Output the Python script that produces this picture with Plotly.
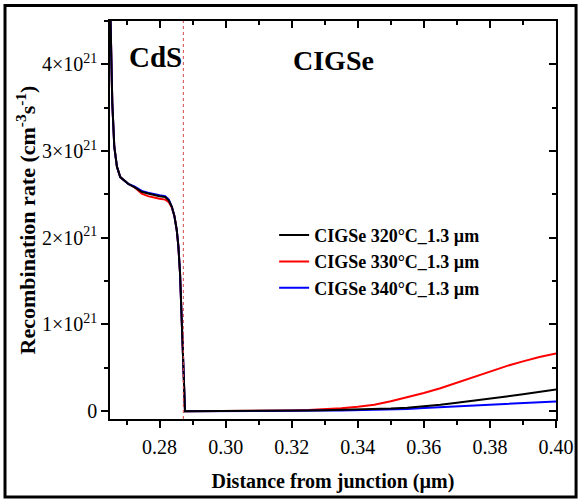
import plotly.graph_objects as go

SCALE = 1e21

# Distance from junction (µm)
x_vals = [0.2650, 0.2653, 0.2657, 0.2663, 0.2671, 0.2681, 0.2695, 0.2706, 0.2725,
          0.2746, 0.2765, 0.2785, 0.2800, 0.2817, 0.2828, 0.2837, 0.2845, 0.2852,
          0.2857, 0.2862, 0.2867, 0.2872, 0.2877, 0.2880, 0.290, 0.300, 0.310,
          0.320, 0.325, 0.330, 0.335, 0.340, 0.345, 0.350, 0.355, 0.360, 0.365,
          0.370, 0.375, 0.380, 0.385, 0.390, 0.395, 0.400]

# Recombination rate in units of 1e21 cm^-3 s^-1
y_320 = [4.80, 4.31, 3.55, 3.05, 2.82, 2.70, 2.65, 2.62, 2.58,
         2.53, 2.51, 2.49, 2.48, 2.47, 2.43, 2.36, 2.25, 2.09,
         1.90, 1.59, 1.05, 0.51, 0.00, 0.00, 0.000, 0.000, 0.002,
         0.005, 0.008, 0.011, 0.014, 0.018, 0.023, 0.030, 0.040, 0.055, 0.075,
         0.098, 0.120, 0.145, 0.170, 0.196, 0.224, 0.250]
y_330 = [4.80, 4.31, 3.55, 3.05, 2.82, 2.70, 2.65, 2.62, 2.58,
         2.51, 2.48, 2.46, 2.45, 2.44, 2.41, 2.35, 2.25, 2.09,
         1.90, 1.59, 1.05, 0.51, 0.00, 0.00, 0.000, 0.001, 0.004,
         0.008, 0.013, 0.021, 0.033, 0.050, 0.075, 0.115, 0.160, 0.210, 0.265,
         0.330, 0.395, 0.460, 0.520, 0.575, 0.625, 0.665]
y_340 = [4.80, 4.31, 3.55, 3.05, 2.82, 2.70, 2.65, 2.62, 2.59,
         2.54, 2.52, 2.50, 2.49, 2.48, 2.44, 2.36, 2.25, 2.09,
         1.90, 1.59, 1.05, 0.51, 0.00, 0.00, 0.000, 0.000, 0.001,
         0.003, 0.005, 0.007, 0.009, 0.012, 0.016, 0.020, 0.026, 0.036, 0.046,
         0.055, 0.065, 0.074, 0.083, 0.091, 0.101, 0.112]

series_names = ["CIGSe 320°C_1.3 µm", "CIGSe 330°C_1.3 µm", "CIGSe 340°C_1.3 µm"]
series_colors = ["#000000", "#ff0000", "#0000ff"]

x_tickvals = [0.28, 0.30, 0.32, 0.34, 0.36, 0.38, 0.40]
x_ticktext = ["0.28", "0.30", "0.32", "0.34", "0.36", "0.38", "0.40"]
y_tickvals = [0, 1e21, 2e21, 3e21, 4e21]
y_ticktext = ["0", "1×10<sup>21</sup>", "2×10<sup>21</sup>", "3×10<sup>21</sup>", "4×10<sup>21</sup>"]

interface_x = 0.2872
x_range = [0.265, 0.400]
y_range = [-0.09e21, 4.5e21]

FONT = "Liberation Serif"

fig = go.Figure()
ys = [y_320, y_330, y_340]
draw_order = [1, 2, 0]  # red, blue, black on top
for i in draw_order:
    fig.add_trace(go.Scatter(
        x=x_vals, y=[v * SCALE for v in ys[i]], mode="lines",
        name=series_names[i], legendrank=i + 1,
        line=dict(color=series_colors[i], width=2),
    ))

tick_common = dict(showgrid=False, zeroline=False, tickcolor="black", tickwidth=1.5,
                   automargin=False)

fig.update_layout(
    width=580, height=503,
    margin=dict(l=110, r=24, t=21, b=84, autoexpand=False),
    paper_bgcolor="white", plot_bgcolor="white",
    font=dict(family=FONT, color="black"),
    showlegend=True,
    legend=dict(x=0.368, y=0.508, xanchor="left", yanchor="top",
                bgcolor="rgba(0,0,0,0)", borderwidth=0,
                font=dict(family=FONT, size=18, color="black", weight="bold"),
                traceorder="normal"),
    xaxis=dict(range=x_range, tickvals=x_tickvals, ticktext=x_ticktext,
               ticks="outside", ticklen=7, showline=True, mirror=True,
               linecolor="black", linewidth=1.5,
               tickfont=dict(size=20), ticklabelstandoff=2,
               minor=dict(dtick=0.01, tick0=0.27, ticks="outside", ticklen=4,
                          tickcolor="black", tickwidth=1.5),
               title=dict(text="<b>Distance from junction (µm)</b>",
                          font=dict(size=20), standoff=17),
               **tick_common),
    yaxis=dict(range=y_range, tickvals=y_tickvals, ticktext=y_ticktext,
               ticks="outside", ticklen=7, showline=True, mirror=True,
               linecolor="black", linewidth=1.5,
               tickfont=dict(size=20),
               minor=dict(dtick=0.5e21, tick0=0, ticks="outside", ticklen=4,
                          tickcolor="black", tickwidth=1.5),
               title=dict(text="<b>Recombination rate (cm<sup>-3</sup>s<sup>-1</sup>)</b>",
                          font=dict(size=22), standoff=0),
               **tick_common),
    xaxis2=dict(range=x_range, overlaying="x", side="top", tickvals=x_tickvals,
                showticklabels=False, ticks="inside", ticklen=7, showline=False,
                minor=dict(dtick=0.01, tick0=0.27, ticks="inside", ticklen=4,
                           tickcolor="black", tickwidth=1.5),
                **tick_common),
    yaxis2=dict(range=y_range, overlaying="y", side="right", tickvals=y_tickvals,
                showticklabels=False, ticks="inside", ticklen=7, showline=False,
                minor=dict(dtick=0.5e21, tick0=0, ticks="inside", ticklen=4,
                           tickcolor="black", tickwidth=1.5),
                **tick_common),
)

# invisible trace to activate the overlay (mirror tick) axes
fig.add_trace(go.Scatter(x=[x_range[0]], y=[y_range[0]], xaxis="x2", yaxis="y2",
                         mode="markers", marker=dict(opacity=0), showlegend=False,
                         hoverinfo="skip"))

# CdS / CIGSe interface line
fig.add_shape(type="line", xref="x", yref="paper", x0=interface_x, x1=interface_x,
              y0=0, y1=1, line=dict(color="#d04848", width=1, dash="dot"))

# outer frame
fig.add_shape(type="rect", xref="paper", yref="paper",
              x0=-0.2354, x1=1.045, y0=-0.196, y1=1.039,
              line=dict(color="black", width=3), fillcolor="rgba(0,0,0,0)")

fig.add_annotation(text="<b>CdS</b>", xref="paper", yref="paper", x=0.101, y=0.9095,
                   xanchor="center", yanchor="middle",
                   showarrow=False, font=dict(family=FONT, size=29, color="black"))
fig.add_annotation(text="<b>CIGSe</b>", xref="paper", yref="paper", x=0.502, y=0.902,
                   xanchor="center", yanchor="middle",
                   showarrow=False, font=dict(family=FONT, size=28, color="black"))

fig.write_html("out.html")
